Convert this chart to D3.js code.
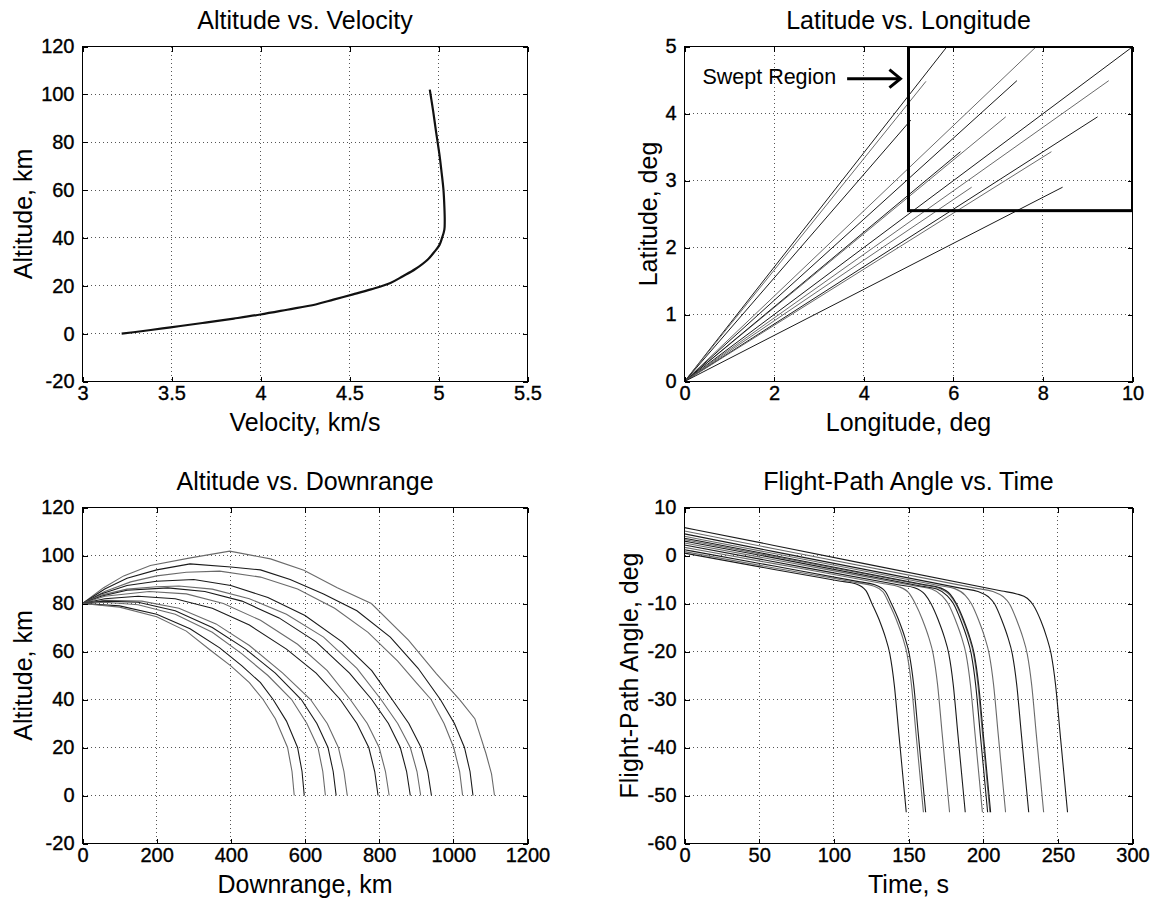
<!DOCTYPE html>
<html>
<head>
<meta charset="utf-8">
<script src="https://cdn.jsdelivr.net/npm/d3@7"></script>
<style>
  body { margin: 0; background: #fff; }
  svg text { font-family: "Liberation Sans", Arial, Helvetica, sans-serif; fill: #000; }
</style>
</head>
<body>
<div id="chart"></div>
<script>
// ---- Altitude vs. Velocity (one trajectory, bundle of runs) ----
const velocityKms = [3.22, 3.33, 3.45, 3.55, 3.69, 3.85, 4.00, 4.15, 4.31, 4.41, 4.52, 4.62, 4.73, 4.80,
  4.87, 4.94, 4.975, 5.005, 5.02, 5.033, 5.035, 5.033, 5.028, 5.018, 5.005, 4.987, 4.97, 4.951];
const altitudeVelKm = [0, 1.0, 2.2, 3.2, 4.6, 6.3, 8.0, 10.0, 12.2, 14.2, 16.4, 18.5, 21.2, 24,
  27, 31, 34, 37, 40, 43.5, 47, 53, 60, 67, 75, 84, 93, 102];

// ---- Latitude vs. Longitude: straight ground tracks from the origin, end points ----
const lonEnd = [5.85, 5.39, 5.05, 7.84, 7.42, 7.17, 6.16, 6.41, 9.99, 9.47, 9.22, 8.19, 8.44];
const latEnd = [4.99, 4.48, 3.90, 4.99, 4.49, 3.95, 3.43, 2.90, 4.99, 4.49, 3.95, 3.43, 2.90];
const sweptLon = [5, 10];
const sweptLat = [2.55, 5];

// ---- Altitude vs. Downrange: [downrange km, altitude km] ----
const downrangeCurves = [
  [[0,80],[57,86.6],[111,91.5],[183,95.8],[291,99],[397,101.8],[507,98.6],[597,93.9],[687,86.6],[779,80],[879,64.7],[954,50.8],[1018,39.7],[1058,32],[1088,17.5],[1103,9],[1111,0]],
  [[0,80],[60,86],[120,90.5],[200,94],[290,96.5],[400,95.2],[480,94],[560,90],[650,84],[740,77],[830,66],[905,53],[965,40],[1003,30],[1030,20],[1045,10],[1053,0]],
  [[0,80],[60,85],[130,89],[200,91.5],[280,93],[370,93.5],[480,91],[580,86],[680,78],[770,68],[850,56],[900,47],[940,40],[975,30],[1001,20],[1017,10],[1025,0]],
  [[0,80],[50,84],[120,87.5],[200,89.3],[300,90],[400,87.5],[500,82.5],[600,75],[700,64],[780,52],[835,40],[880,30],[913,20],[931,10],[941,0]],
  [[0,80],[50,83.5],[120,86],[200,87],[260,87.3],[350,86],[450,82],[550,75.5],[650,66],[740,53],[805,40],[850,30],[884,20],[902,10],[912,0]],
  [[0,80],[50,83],[120,85.5],[230,86.5],[330,85],[430,81],[530,74],[630,64],[720,51],[780,40],[825,30],[857,20],[874,10],[884,0]],
  [[0,80],[60,83],[180,85],[280,84],[380,80],[480,73],[580,63],[660,52],[722,40],[768,30],[800,20],[817,10],[827,0]],
  [[0,80],[60,82],[150,83],[250,82],[350,78],[450,71],[550,61],[630,51],[695,40],[740,30],[772,20],[788,10],[797,0]],
  [[0,80],[60,81.3],[160,81],[260,78],[360,71.5],[450,62.5],[540,51],[615,40],[660,30],[690,20],[705,10],[714,0]],
  [[0,80],[60,81],[150,80.5],[250,77],[350,70],[440,61],[520,51],[590,40],[632,30],[662,20],[676,10],[684,0]],
  [[0,80],[60,80.5],[150,79.5],[250,75.5],[350,68],[430,59],[500,50],[564,40],[605,30],[635,20],[648,10],[655,0]],
  [[0,80],[100,79],[200,75.5],[290,69.5],[370,61.5],[430,54],[480,47],[514,40],[550,31],[580,20],[592,10],[598,0]],
  [[0,80],[100,78.5],[200,74.5],[280,68.5],[345,60.5],[400,54],[450,47],[487,40],[520,32],[553,20],[565,10],[571,0]]
];

// ---- Flight-Path Angle vs. Time: [time s, angle deg] ----
const fpaCurves = [
  [[0,0.5],[60,-2.9],[104.5,-5.35],[114.5,-5.9],[121.5,-7.3],[125.5,-10],[130.5,-13.5],[134.5,-17],[137.5,-20.5],[140.5,-27],[143.5,-37],[148.5,-53.5]],
  [[0,0.8],[60,-2.6],[116,-5.7],[126,-6.3],[133,-7.6],[137,-10],[142,-13.5],[146,-17],[149,-20.5],[152,-27],[155,-37],[160,-53.5]],
  [[0,1.2],[60,-2.2],[117.5,-5.5],[127.5,-6.1],[134.5,-7.5],[138.5,-10],[143.5,-13.5],[147.5,-17],[150.5,-20.5],[153.5,-27],[156.5,-37],[161.5,-53.5]],
  [[0,1.7],[60,-1.7],[133.5,-5.9],[143.5,-6.5],[150.5,-7.9],[154.5,-10],[159.5,-13.5],[163.5,-17],[166.5,-20.5],[169.5,-27],[172.5,-37],[177.5,-53.5]],
  [[0,2.2],[60,-1.3],[144,-6.15],[154,-6.7],[161,-8.1],[165,-10],[170,-13.5],[174,-17],[177,-20.5],[180,-27],[183,-37],[188,-53.5]],
  [[0,2.6],[60,-0.9],[155.5,-6.4],[165.5,-7.0],[172.5,-8.4],[176.5,-10],[181.5,-13.5],[185.5,-17],[188.5,-20.5],[191.5,-27],[194.5,-37],[199.5,-53.5]],
  [[0,3.0],[60,-0.5],[159,-6.4],[169,-7.0],[176,-8.4],[180,-10],[185,-13.5],[189,-17],[192,-20.5],[195,-27],[198,-37],[203,-53.5]],
  [[0,3.3],[60,-0.2],[160.5,-6.2],[170.5,-6.8],[177.5,-8.2],[181.5,-10],[186.5,-13.5],[190.5,-17],[193.5,-20.5],[196.5,-27],[199.5,-37],[204.5,-53.5]],
  [[0,3.6],[60,0],[161,-6.1],[171,-6.7],[178,-8.1],[182,-10],[187,-13.5],[191,-17],[194,-20.5],[197,-27],[200,-37],[205,-53.5]],
  [[0,4.0],[60,0.4],[171,-6.3],[181,-6.9],[188,-8.3],[192,-10],[197,-13.5],[201,-17],[204,-20.5],[207,-27],[210,-37],[215,-53.5]],
  [[0,4.5],[60,0.8],[186.5,-6.9],[196.5,-7.5],[203.5,-8.6],[207.5,-10],[212.5,-13.5],[216.5,-17],[219.5,-20.5],[222.5,-27],[225.5,-37],[230.5,-53.5]],
  [[0,5.1],[60,1.4],[196.5,-6.9],[206.5,-7.5],[213.5,-8.6],[217.5,-10],[222.5,-13.5],[226.5,-17],[229.5,-20.5],[232.5,-27],[235.5,-37],[240.5,-53.5]],
  [[0,5.8],[60,2.1],[212.5,-7.4],[222.5,-8.0],[229.5,-8.9],[233.5,-10.3],[238.5,-13.5],[242.5,-17],[245.5,-20.5],[248.5,-27],[251.5,-37],[256.5,-53.5]]
];

// ---- tick values ----
const velTicks = [3, 3.5, 4, 4.5, 5, 5.5];
const altTicks = [-20, 0, 20, 40, 60, 80, 100, 120];
const lonTicks = [0, 2, 4, 6, 8, 10];
const latTicks = [0, 1, 2, 3, 4, 5];
const rangeTicks = [0, 200, 400, 600, 800, 1000, 1200];
const timeTicks = [0, 50, 100, 150, 200, 250, 300];
const fpaTicks = [-60, -50, -40, -30, -20, -10, 0, 10];

const width = 1163, height = 904;
const svg = d3.select("#chart").append("svg")
  .attr("width", width).attr("height", height)
  .attr("viewBox", `0 0 ${width} ${height}`);

const lineColor = i => (i % 2 ? "#6a6a6a" : "#1a1a1a");

function panel(p) {
  const g = svg.append("g").attr("transform", `translate(${p.left + 0.5},${p.top + 0.5})`);
  const x = d3.scaleLinear().domain(p.xDomain).range([0, p.w]);
  const y = d3.scaleLinear().domain(p.yDomain).range([p.h, 0]);

  // dotted grid
  const grid = g.append("g").attr("stroke", "#555").attr("stroke-dasharray", "1,3")
    .attr("shape-rendering", "crispEdges");
  grid.selectAll(".gx").data(p.xTicks).join("line")
    .attr("x1", d => x(d)).attr("x2", d => x(d)).attr("y1", 0).attr("y2", p.h);
  grid.selectAll(".gy").data(p.yTicks).join("line")
    .attr("y1", d => y(d)).attr("y2", d => y(d)).attr("x1", 0).attr("x2", p.w);

  g.append("clipPath").attr("id", p.id)
    .append("rect").attr("width", p.w).attr("height", p.h);
  const plot = g.append("g").attr("clip-path", `url(#${p.id})`);

  const fmt = d => String(d);
  const axes = [
    [d3.axisBottom(x).tickValues(p.xTicks).tickFormat(fmt), `translate(0,${p.h})`],
    [d3.axisLeft(y).tickValues(p.yTicks).tickFormat(fmt), null],
    [d3.axisTop(x).tickValues(p.xTicks).tickFormat(""), null],
    [d3.axisRight(y).tickValues(p.yTicks).tickFormat(""), `translate(${p.w},0)`]
  ];
  const axisLayer = g.append("g");
  axes.forEach(([ax, tr], i) => {
    ax.tickSizeInner(-5).tickSizeOuter(0).tickPadding(i === 0 ? 4 : 8);
    const a = axisLayer.append("g").call(ax);
    if (tr) a.attr("transform", tr);
    a.select(".domain").remove();
    a.selectAll("line").attr("stroke", "#000").attr("shape-rendering", "crispEdges");
    a.selectAll("text").attr("font-size", 20).attr("font-family", null)
      .attr("fill", "#000").attr("stroke", "#000").attr("stroke-width", 0.35);
  });

  return { g, plot, x, y, axisLayer, p };
}

function finish(pn) {
  const { g, p } = pn;
  g.append("rect").attr("width", p.w).attr("height", p.h)
    .attr("fill", "none").attr("stroke", "#000").attr("shape-rendering", "crispEdges");
  g.node().appendChild(pn.axisLayer.node());
  g.append("text").attr("x", p.w / 2).attr("y", -17.5).attr("text-anchor", "middle")
    .attr("font-size", 25).text(p.title);
  g.append("text").attr("x", p.w / 2).attr("y", p.h + 49).attr("text-anchor", "middle")
    .attr("font-size", 25).text(p.xLabel);
  g.append("text").attr("transform", `translate(${p.yLabelX},${p.h / 2}) rotate(-90)`)
    .attr("text-anchor", "middle").attr("font-size", 25).text(p.yLabel);
}

// ---------- panel 1 ----------
const p1 = panel({ id: "c1", left: 82, top: 46, w: 445, h: 335, xDomain: [3, 5.5], yDomain: [-20, 120],
  xTicks: velTicks, yTicks: altTicks, title: "Altitude vs. Velocity", xLabel: "Velocity, km/s",
  yLabel: "Altitude, km", yLabelX: -51 });
p1.plot.append("path")
  .datum(d3.zip(velocityKms, altitudeVelKm))
  .attr("fill", "none").attr("stroke", "#111").attr("stroke-width", 2.2)
  .attr("d", d3.line().x(d => p1.x(d[0])).y(d => p1.y(d[1])).curve(d3.curveCatmullRom.alpha(0.5)));
finish(p1);

// ---------- panel 2 ----------
const p2 = panel({ id: "c2", left: 684, top: 46, w: 448, h: 335, xDomain: [0, 10], yDomain: [0, 5],
  xTicks: lonTicks, yTicks: latTicks, title: "Latitude vs. Longitude", xLabel: "Longitude, deg",
  yLabel: "Latitude, deg", yLabelX: -28 });
p2.plot.selectAll(".track").data(d3.zip(lonEnd, latEnd)).join("line")
  .attr("x1", p2.x(0)).attr("y1", p2.y(0))
  .attr("x2", d => p2.x(d[0])).attr("y2", d => p2.y(d[1]))
  .attr("stroke", (d, i) => lineColor(i)).attr("stroke-width", 1);
p2.plot.append("rect")
  .attr("x", p2.x(sweptLon[0])).attr("y", p2.y(sweptLat[1]))
  .attr("width", p2.x(sweptLon[1]) - p2.x(sweptLon[0]))
  .attr("height", p2.y(sweptLat[0]) - p2.y(sweptLat[1]))
  .attr("fill", "none").attr("stroke", "#000").attr("stroke-width", 3);
finish(p2);
// annotation
{
  const ay = p2.y(4.52), ax0 = p2.x(3.63), ax1 = p2.x(4.82);
  p2.g.append("text").attr("x", p2.x(0.4)).attr("y", p2.y(4.44))
    .attr("font-family", "'Open Sans', 'Noto Sans', sans-serif").attr("font-size", 21.5)
    .attr("fill", "#1a1a1a").text("Swept Region");
  p2.g.append("line").attr("x1", ax0).attr("x2", ax1 - 1).attr("y1", ay).attr("y2", ay)
    .attr("stroke", "#000").attr("stroke-width", 3);
  p2.g.append("path").attr("d", `M${ax1 - 11},${ay - 9}L${ax1},${ay}L${ax1 - 11},${ay + 9}`)
    .attr("fill", "none").attr("stroke", "#000").attr("stroke-width", 3);
}

// ---------- panel 3 ----------
const p3 = panel({ id: "c3", left: 82, top: 507, w: 445, h: 336, xDomain: [0, 1200], yDomain: [-20, 120],
  xTicks: rangeTicks, yTicks: altTicks, title: "Altitude vs. Downrange", xLabel: "Downrange, km",
  yLabel: "Altitude, km", yLabelX: -51 });
const line3 = d3.line().x(d => p3.x(d[0])).y(d => p3.y(d[1]));
p3.plot.selectAll(".traj").data(downrangeCurves).join("path")
  .attr("fill", "none").attr("stroke", (d, i) => lineColor(i + 1)).attr("stroke-width", 1.1)
  .attr("d", line3);
finish(p3);

// ---------- panel 4 ----------
const p4 = panel({ id: "c4", left: 684, top: 507, w: 448, h: 336, xDomain: [0, 300], yDomain: [-60, 10],
  xTicks: timeTicks, yTicks: fpaTicks, title: "Flight-Path Angle vs. Time", xLabel: "Time, s",
  yLabel: "Flight-Path Angle, deg", yLabelX: -47 });
const line4 = d3.line().x(d => p4.x(d[0])).y(d => p4.y(d[1])).curve(d3.curveMonotoneX);
p4.plot.selectAll(".fpa").data(fpaCurves).join("path")
  .attr("fill", "none").attr("stroke", (d, i) => lineColor(i)).attr("stroke-width", 1.1)
  .attr("d", line4);
finish(p4);
</script>
</body>
</html>
